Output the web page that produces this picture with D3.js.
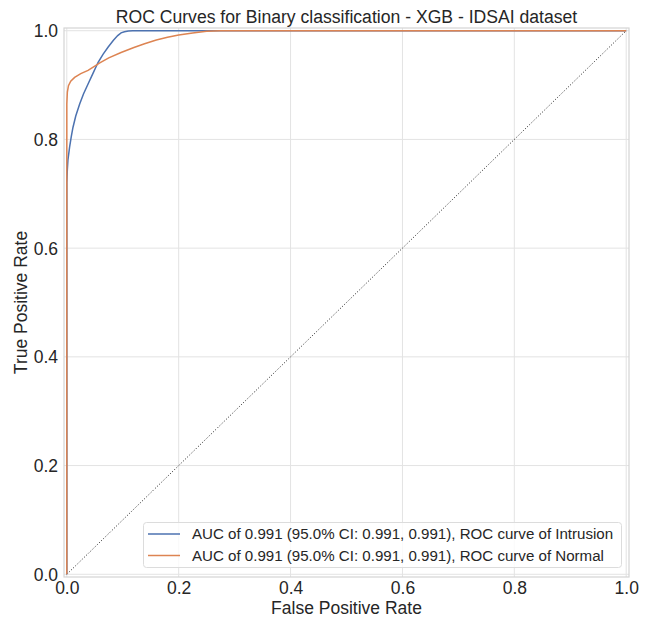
<!DOCTYPE html>
<html><head><meta charset="utf-8">
<script src="https://cdn.jsdelivr.net/npm/d3@7"></script>
<style>body{margin:0;background:#fff}svg{display:block}text{font-family:"Liberation Sans",Arial,sans-serif;fill:#262626}</style>
</head><body><svg id="c" width="652" height="620"></svg>
<script>
const titleText = "ROC Curves for Binary classification - XGB - IDSAI dataset";
const xLabel = "False Positive Rate", yLabel = "True Positive Rate";
const ticks = [0, 0.2, 0.4, 0.6, 0.8, 1.0];
const seriesNames = ["AUC of 0.991 (95.0% CI: 0.991, 0.991), ROC curve of Intrusion",
                     "AUC of 0.991 (95.0% CI: 0.991, 0.991), ROC curve of Normal"];
const seriesColors = ["#4c72b0", "#dd8452"];
const intrusionFPR = [0, 0, 0.001, 0.002, 0.005, 0.008, 0.011, 0.016, 0.023, 0.030, 0.038, 0.047, 0.056, 0.065, 0.074, 0.083, 0.091, 0.097, 0.103, 0.110, 0.118, 1.0];
const intrusionTPR = [0, 0.72, 0.745, 0.762, 0.786, 0.805, 0.822, 0.843, 0.865, 0.884, 0.902, 0.922, 0.942, 0.957, 0.970, 0.982, 0.991, 0.996, 0.998, 0.9995, 1.0, 1.0];
const normalFPR = [0, 0, 0.001, 0.003, 0.007, 0.014, 0.025, 0.038, 0.050, 0.059, 0.075, 0.097, 0.120, 0.139, 0.160, 0.180, 0.200, 0.225, 0.250, 0.275, 1.0];
const normalTPR = [0, 0.865, 0.887, 0.899, 0.907, 0.914, 0.921, 0.927, 0.935, 0.941, 0.950, 0.960, 0.969, 0.976, 0.983, 0.988, 0.992, 0.996, 0.999, 1.0, 1.0];

const svg = d3.select("#c");
const L = 64, R = 629, T = 28, B = 577;
const x = d3.scaleLinear().domain([-0.005, 1.005]).range([L, R]);
const y = d3.scaleLinear().domain([-0.005, 1.005]).range([B, T]);

// grid
const g = svg.append("g");
g.selectAll(".gx").data(ticks).enter().append("line")
  .attr("x1", d => x(d)).attr("x2", d => x(d)).attr("y1", T).attr("y2", B)
  .attr("stroke", "#e3e3e3").attr("stroke-width", 1);
g.selectAll(".gy").data(ticks).enter().append("line")
  .attr("y1", d => y(d)).attr("y2", d => y(d)).attr("x1", L).attr("x2", R)
  .attr("stroke", "#e3e3e3").attr("stroke-width", 1);

// axes (tick labels only)
const fmt = d3.format(".1f");
const ax = svg.append("g").attr("transform", `translate(0,${B})`)
  .call(d3.axisBottom(x).tickValues(ticks).tickFormat(fmt).tickSize(0).tickPadding(5));
const ay = svg.append("g").attr("transform", `translate(${L},0)`)
  .call(d3.axisLeft(y).tickValues(ticks).tickFormat(fmt).tickSize(0).tickPadding(6));
[ax, ay].forEach(a => {
  a.select(".domain").remove();
  a.selectAll("text").attr("font-size", 17.5).attr("fill", "#262626")
    .style("font-family", '"Liberation Sans",Arial,sans-serif');
});
ay.selectAll("text").attr("dy", "0.35em");

// diagonal
svg.append("line").attr("x1", x(0)).attr("y1", y(0)).attr("x2", x(1)).attr("y2", y(1))
  .attr("stroke", "#000").attr("stroke-width", 0.9).attr("stroke-dasharray", "1,2");

// curves
const line = d3.line().x(d => x(d[0])).y(d => y(d[1]));
const data = [d3.zip(intrusionFPR, intrusionTPR), d3.zip(normalFPR, normalTPR)];
data.forEach((pts, i) => {
  svg.append("path").attr("d", line(pts)).attr("fill", "none")
    .attr("stroke", seriesColors[i]).attr("stroke-width", 1.5);
});

// frame
svg.append("rect").attr("x", L).attr("y", T).attr("width", R - L).attr("height", B - T)
  .attr("fill", "none").attr("stroke", "#d4d4d4").attr("stroke-width", 1.2);

// title & labels
svg.append("text").attr("x", (L + R) / 2).attr("y", 23).attr("text-anchor", "middle")
  .attr("font-size", 17.6).text(titleText);
svg.append("text").attr("x", (L + R) / 2).attr("y", 614).attr("text-anchor", "middle")
  .attr("font-size", 17.5).text(xLabel);
svg.append("text").attr("transform", `translate(27,${(T + B) / 2}) rotate(-90)`)
  .attr("text-anchor", "middle").attr("font-size", 17.5).text(yLabel);

// legend
const lg = svg.append("g");
lg.append("rect").attr("x", 143.5).attr("y", 522.5).attr("width", 478).attr("height", 45)
  .attr("rx", 3).attr("fill", "#fff").attr("fill-opacity", 0.8).attr("stroke", "#dcdcdc");
seriesNames.forEach((n, i) => {
  const yy = 534 + i * 21.5;
  lg.append("line").attr("x1", 148).attr("x2", 180).attr("y1", yy).attr("y2", yy)
    .attr("stroke", seriesColors[i]).attr("stroke-width", 1.5);
  lg.append("text").attr("x", 192).attr("y", yy).attr("dy", "0.35em")
    .attr("font-size", 15.1).text(n);
});
</script></body></html>
